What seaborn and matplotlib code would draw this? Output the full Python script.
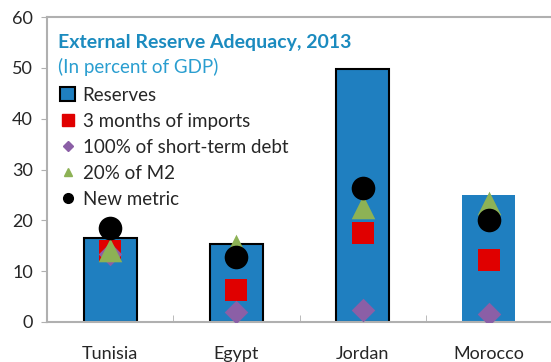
import pandas as pd
import seaborn as sns
import matplotlib

matplotlib.use('Agg')
import matplotlib.pyplot as plt
from matplotlib.lines import Line2D
from matplotlib.patches import Patch

countries = ["Tunisia", "Egypt", "Jordan", "Morocco"]
reserves = [16.5, 15.4, 49.7, 24.9]
imports_3m = [14.0, 6.3, 17.6, 12.2]
short_debt = [13.3, 2.0, 2.4, 1.6]
m2_20 = [14.2, 15.0, 22.6, 23.5]
new_metric = [18.5, 12.8, 26.4, 20.1]

df = pd.DataFrame({"country": countries, "reserves": reserves, "imports": imports_3m,
                   "debt": short_debt, "m2": m2_20, "metric": new_metric})

sns.set_style("white")
plt.rcParams['font.family'] = ['Lato', 'DejaVu Sans']

fig = plt.figure(figsize=(5.51, 3.62), dpi=100)
ax = fig.add_axes([47 / 551, 40 / 362, 505 / 551, 305 / 362])

bar_col = "#1f7fc0"
sns.barplot(data=df, x="country", y="reserves", color=bar_col, width=0.42,
            saturation=1, ax=ax, zorder=1)
# Morocco bar has no outline in the original
for i, p in enumerate(ax.patches):
    if i < 3:
        p.set_edgecolor("black")
        p.set_linewidth(1.5)
    else:
        p.set_edgecolor("none")

# series drawn in this order: square, diamond, triangle, circle
series = [
    ("imports", "s", "#e00000", 16),
    ("debt", "D", "#8b5fa6", 12),
    ("m2", "^", "#8db255", 17),
    ("metric", "o", "black", 17),
]
for i, (col, mk, c, sz) in enumerate(series):
    sns.stripplot(data=df, x="country", y=col, jitter=False, marker=mk, color=c,
                  size=sz, linewidth=0, ax=ax, zorder=3 + i)

ax.set_ylim(0, 60)
ax.set_xlim(-0.5, 3.5)
ax.set_yticks(range(0, 61, 10))
ax.set_xlabel("")
ax.set_ylabel("")
ax.tick_params(axis="y", labelsize=13, length=4, color="#b0b0b0", left=True, pad=6)
ax.tick_params(axis="x", which="major", labelsize=13, length=0, pad=17)
ax.set_xticks([0.5, 1.5, 2.5], minor=True)
ax.tick_params(axis="x", which="minor", direction="in", length=5, color="#b0b0b0", bottom=True)
for s in ["left", "top", "bottom"]:
    ax.spines[s].set_color("#b0b0b0")
    ax.spines[s].set_linewidth(1.5)
ax.spines["right"].set_visible(False)

ax.text(0.022, 0.915, "External Reserve Adequacy, 2013", transform=ax.transAxes,
        fontsize=14, fontweight="bold", color="#1b8bbf", va="center")
ax.text(0.022, 0.835, "(In percent of GDP)", transform=ax.transAxes,
        fontsize=13.5, color="#2a9ed0", va="center")

handles = [
    Patch(facecolor=bar_col, edgecolor="black", linewidth=1.5),
    Line2D([], [], marker="s", color="#e00000", linestyle="none", markersize=8),
    Line2D([], [], marker="D", color="#8b5fa6", linestyle="none", markersize=5),
    Line2D([], [], marker="^", color="#8db255", linestyle="none", markersize=6),
    Line2D([], [], marker="o", color="black", linestyle="none", markersize=7),
]
labels = ["Reserves", "3 months of imports", "100% of short-term debt", "20% of M2", "New metric"]
ax.legend(handles, labels, loc="upper left", bbox_to_anchor=(0.0, 0.815), frameon=False,
          fontsize=13.5, handlelength=0.8, handleheight=0.8, handletextpad=0.4,
          labelspacing=0.48, borderaxespad=0.3)

fig.savefig("out.png", dpi=100)
